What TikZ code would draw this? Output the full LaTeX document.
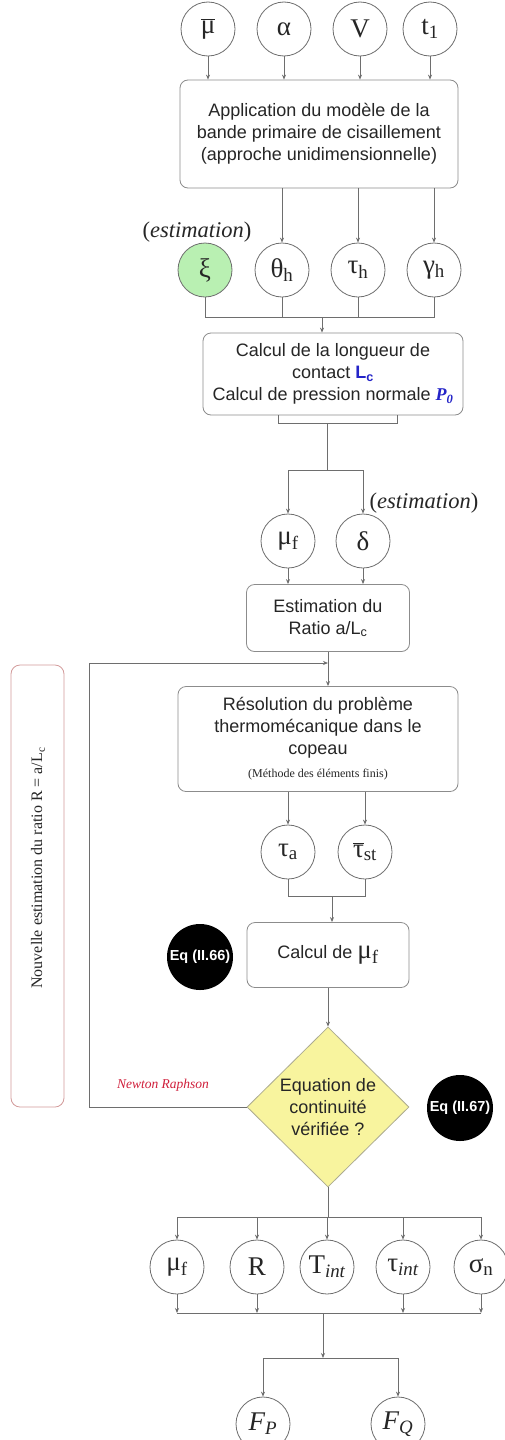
\documentclass[tikz,border=0pt]{standalone}
\usepackage{fontspec}
\usepackage{tikz}
\usetikzlibrary{shapes.geometric,arrows.meta}
\setmainfont{Liberation Sans}
\newfontfamily\symfont{Liberation Serif}
\newcommand\lowtxt[1]{\textsubscript{#1}}
\definecolor{linegray}{HTML}{6E6E6E}
\definecolor{boxgray}{HTML}{8C8C8C}
\definecolor{xigreen}{HTML}{B9F0B2}
\definecolor{diayellow}{HTML}{F8F49E}
\definecolor{redframe}{HTML}{D29A9A}
\definecolor{nrred}{HTML}{D0203C}
\definecolor{lcblue}{HTML}{2424C8}

\begin{document}
\begin{tikzpicture}[x=1pt,y=-1pt,
  every node/.style={font=\fontsize{18}{22}\selectfont,text=black!85},
  var/.style={circle,draw=linegray,line width=0.8pt,fill=white,minimum size=54pt,inner sep=0pt,font=\symfont\fontsize{27}{27}\selectfont},
  box/.style={rectangle,rounded corners=8pt,draw=boxgray,line width=0.8pt,align=center,inner sep=0pt},
  eqmark/.style={circle,fill=black,minimum size=66pt,inner sep=0pt,text=white,font=\bfseries\fontsize{14.5}{16}\selectfont},
  estim/.style={font=\symfont\fontsize{22.5}{26}\selectfont},
  link/.style={draw=linegray,line width=0.8pt},
  arr/.style={link,-{Stealth[length=5pt,width=4pt]}}]
\useasboundingbox (0,0) rectangle (505,1440);
\fill[white] (0,0) rectangle (505,1440);

\node[var] (mubar) at (208,29) {$\overline{\mbox{μ}}$};
\node[var] (alpha) at (284,29) {α};
\node[var] (vel) at (360,29) {V};
\node[var] (tone) at (430,29) {t\lowtxt{1}};
\node[box,minimum width=278pt,minimum height=108pt] (model) at (319,134) {Application du modèle de la\\bande primaire de cisaillement\\(approche unidimensionnelle)};
\foreach \n in {mubar,alpha,vel,tone} \draw[arr] (\n) -- (\n |- model.north);

\node[var,fill=xigreen] (xi) at (205,270) {ξ};
\node[var] (theta) at (282,270) {θ\lowtxt{h}};
\node[var] (tauh) at (358,270) {τ\lowtxt{h}};
\node[var] (gammah) at (434,270) {γ\lowtxt{h}};
\node[estim] (estxi) at (197,232) {(\textit{estimation})};
\foreach \n in {theta,tauh,gammah} \draw[arr] (\n |- model.south) -- (\n);

\node[box,minimum width=260pt,minimum height=82pt] (contact) at (333,374) {Calcul de la longueur de\\contact {\color{lcblue}\bfseries L\lowtxt{c}}\\Calcul de pression normale {\color{lcblue}\symfont\bfseries\itshape P\lowtxt{0}}};
\coordinate (jlen) at (322,317);
\draw[link] (xi) |- (gammah |- jlen) -- (gammah);
\draw[link] (theta) -- (theta |- jlen);
\draw[link] (tauh) -- (tauh |- jlen);
\draw[arr] (jlen) -- (jlen |- contact.north);

\coordinate (brl) at (278,423);
\coordinate (brr) at (397,423);
\coordinate (brm) at (327,423);
\coordinate (split) at (327,470);
\node[var] (muf) at (288,541) {μ\lowtxt{f}};
\node[var] (delta) at (363,541) {δ};
\node[estim,anchor=west] (estdelta) at (366,503) {(\textit{estimation})};
\draw[link] (brl |- contact.south) -- (brl) -- (brr) -- (brr |- contact.south);
\draw[link] (brm) -- (split);
\draw[arr] (split) -| (muf);
\draw[arr] (split) -| (delta);

\node[box,minimum width=163pt,minimum height=67pt] (ratio) at (328,618) {Estimation du\\Ratio a/L\lowtxt{c}};
\foreach \n in {muf,delta} \draw[arr] (\n) -- (\n |- ratio.north);

\node[box,minimum width=280pt,minimum height=105pt] (resol) at (318,739) {Résolution du problème\\thermomécanique dans le\\copeau\\[1pt]{\symfont\fontsize{12}{13}\selectfont(Méthode des éléments finis)}};
\draw[arr] (ratio) -- (ratio |- resol.north);

\node[var] (taua) at (288,852) {τ\lowtxt{a}};
\node[var] (taust) at (365,852) {$\overline{\mbox{τ}}$\lowtxt{st}};
\foreach \n in {taua,taust} \draw[arr] (\n |- resol.south) -- (\n);

\node[box,minimum width=162pt,minimum height=65pt] (calmu) at (328,955) {Calcul de {\symfont\fontsize{27}{27}\selectfont μ\lowtxt{f}}};
\node[eqmark] (eqsix) at (200,957) {Eq (II.66)};
\coordinate (jtau) at (332,896);
\draw[link] (taua) |- (taust |- jtau) -- (taust);
\draw[arr] (jtau) -- (jtau |- calmu.north);

\node[diamond,draw=boxgray!70!diayellow,line width=0.8pt,fill=diayellow,minimum width=162pt,minimum height=160pt,inner sep=0pt,
  label={[name=conttxt,align=center]center:Equation de\\continuité\\vérifiée ?}] (cont) at (328,1107) {};
\node[eqmark] (eqsev) at (460,1108) {Eq (II.67)};
\node[font=\symfont\itshape\fontsize{13.5}{15}\selectfont,text=nrred] (newton) at (163,1085) {Newton Raphson};
\draw[arr] (calmu) -- (cont);

\node[draw=redframe,line width=0.8pt,rounded corners=9pt,minimum width=53pt,minimum height=442pt,inner sep=0pt] (newest) at (37.5,886) {};
\node[rotate=90,font=\symfont\fontsize{16}{18}\selectfont] (newtxt) at (38,868) {Nouvelle estimation du ratio R = a/L\lowtxt{c}};
\coordinate (loop) at (89,663);
\draw[arr] (cont) -| (loop) -- (ratio.south |- loop);

\coordinate (jout) at (328,1217);
\node[var] (mufo) at (177,1267) {μ\lowtxt{f}};
\node[var] (ratior) at (257,1267) {R};
\node[var] (tint) at (327,1267) {T\lowtxt{\itshape int}};
\node[var] (tauint) at (403,1267) {τ\lowtxt{\itshape int}};
\node[var] (sigman) at (481,1267) {σ\lowtxt{n}};
\draw[link] (cont) -- (jout);
\draw[link] (mufo |- jout) -- (sigman |- jout);
\foreach \n in {mufo,ratior,tint,tauint,sigman} \draw[arr] (\n |- jout) -- (\n);

\coordinate (jsum) at (323,1313);
\coordinate (jforce) at (323,1358);
\foreach \n in {mufo,ratior,tauint,sigman} \draw[arr] (\n) -- (\n |- jsum);
\draw[link] (mufo |- jsum) -- (sigman |- jsum);
\draw[arr] (jsum) -- (jforce);

\node[var] (fp) at (263,1424) {\itshape F\lowtxt{P}};
\node[var] (fq) at (398,1424) {\itshape F\lowtxt{Q}};
\draw[link] (fp |- jforce) -- (fq |- jforce);
\draw[arr] (fp |- jforce) -- (fp);
\draw[arr] (fq |- jforce) -- (fq);
\end{tikzpicture}
\end{document}
